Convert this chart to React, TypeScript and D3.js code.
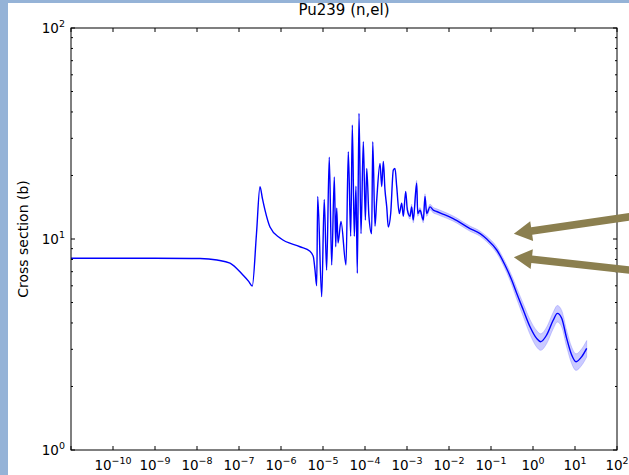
import * as d3 from 'd3'

// neutron energy (MeV) and elastic cross section (b)
const ENERGY = [
  1e-11, 1e-10, 1e-9, 1.18e-8, 3e-8, 6.1e-8, 1.24e-7, 1.7e-7, 2.07e-7, 2.6e-7,
  3.16e-7, 3.6e-7, 4.16e-7, 5.47e-7, 9.5e-7, 2.83e-6, 4.9e-6, 5.88e-6, 6.45e-6, 7.08e-6,
  7.48e-6, 9.31e-6, 1.07e-5, 1.22e-5, 1.41e-5, 1.61e-5, 1.86e-5, 2.01e-5, 2.12e-5, 2.28e-5,
  2.68e-5, 3.53e-5, 4.0e-5, 4.57e-5, 4.99e-5, 5.56e-5, 6.1e-5, 6.56e-5, 7.2e-5, 8.03e-5,
  9.12e-5, 1.02e-4, 1.1e-4, 1.24e-4, 1.44e-4, 1.53e-4, 1.73e-4, 1.9e-4, 2.28e-4, 2.5e-4,
  2.73e-4, 2.99e-4, 3.29e-4, 3.59e-4, 4.09e-4, 4.72e-4, 5.18e-4, 5.69e-4, 6.56e-4, 7.48e-4,
  8.17e-4, 9.31e-4, 1.02e-3, 1.18e-3, 1.29e-3, 1.41e-3, 1.7e-3, 1.8e-3, 2.04e-3, 2.45e-3,
  2.68e-3, 2.94e-3, 3.53e-3, 4.23e-3, 5.09e-3, 6.7e-3, 1.26e-2, 3.16e-2, 5.5e-2, 7.91e-2,
  0.137, 0.215, 0.311, 0.409, 0.587, 0.849, 1.22, 1.52, 2.12, 3.04,
  3.79, 4.82, 6.34, 8.34, 10.6, 14.5, 19.0,
]
const SIGMA = [
  8.1, 8.1, 8.1, 8.08, 7.95, 7.69, 6.75, 6.3, 5.99, 10.5,
  17.7, 15.6, 13.7, 11.4, 10.1, 9.19, 8.75, 8.25, 7.13, 6.0,
  15.9, 5.33, 15.4, 7.13, 24.4, 7.53, 19.7, 9.19, 14.0, 9.57,
  12.1, 7.53, 25.9, 10.3, 34.7, 10.3, 17.8, 6.88, 39.4, 10.6,
  28.9, 12.3, 21.6, 12.8, 10.6, 28.9, 11.5, 15.3, 22.8, 17.7,
  23.3, 17.1, 14.2, 11.4, 13.2, 21.2, 21.6, 17.7, 13.2, 14.8,
  12.8, 16.8, 13.7, 12.8, 14.2, 12.3, 18.4, 13.2, 13.7, 12.3,
  15.9, 13.2, 14.2, 13.7, 13.5, 13.2, 12.5, 11.2, 10.6, 10.0,
  8.87, 7.53, 6.39, 5.53, 4.61, 3.84, 3.38, 3.26, 3.51, 4.13,
  4.44, 4.21, 3.38, 2.82, 2.62, 2.77, 3.03,
]
// relative uncertainty (0 = no band)
const REL_UNC = [
  0, 0, 0, 0, 0, 0, 0, 0, 0, 0,
  0, 0, 0, 0, 0, 0, 0, 0, 0, 0,
  0, 0, 0, 0, 0, 0, 0, 0, 0, 0,
  0, 0, 0, 0, 0, 0, 0, 0, 0, 0,
  0, 0, 0, 0, 0, 0, 0, 0, 0, 0,
  0, 0, 0, 0, 0, 0, 0, 0, 0, 0,
  0, 0, 0.03, 0.03, 0.03, 0.03, 0.03, 0.03, 0.03, 0.03,
  0.03, 0.03, 0.03, 0.03, 0.03, 0.03, 0.028, 0.028, 0.028, 0.03,
  0.035, 0.04, 0.05, 0.06, 0.07, 0.08, 0.09, 0.09, 0.09, 0.09,
  0.09, 0.09, 0.09, 0.09, 0.09, 0.09, 0.09,
]

const X_TICK_EXP = [-11, -10, -9, -8, -7, -6, -5, -4, -3, -2, -1, 0, 1, 2]
const X_LABEL_EXP = [-10, -9, -8, -7, -6, -5, -4, -3, -2, -1, 0, 1, 2]
const Y_TICK_EXP = [0, 1, 2]

// annotation arrows (tail off the right edge -> tip near the curve)
const ARROW_TIP_E = [0.35, 0.35]
const ARROW_TIP_SIGMA = [10.6, 8.2]
const ARROW_TAIL_E = [300, 300]
const ARROW_TAIL_SIGMA = [12.9, 7.06]

const W = 629
const H = 475
const FONT = 'DejaVu Sans, sans-serif'

function Pow({ x, y, exp, anchor }: { x: number; y: number; exp: number; anchor: 'middle' | 'end' }) {
  return (
    <text x={x} y={y} textAnchor={anchor} fontSize={13.5} fontFamily={FONT} fill="#000">
      10
      <tspan dy={-6} fontSize={9.5}>
        {exp < 0 ? `\u2212${-exp}` : `${exp}`}
      </tspan>
    </text>
  )
}

export default function App() {
  const margin = { top: 28, right: 12, bottom: 25, left: 71 }
  const x = d3
    .scaleLog()
    .domain([1e-11, 1e2])
    .range([margin.left, W - margin.right])
  const y = d3
    .scaleLog()
    .domain([1, 100])
    .range([H - margin.bottom, margin.top])

  const [x0, x1] = x.range()
  const [yb, yt] = y.range()

  const idx = d3.range(ENERGY.length)
  const line = d3
    .line<number>()
    .x((i) => x(ENERGY[i]))
    .y((i) => y(SIGMA[i]))
    .curve(d3.curveMonotoneX)
  const band = d3
    .area<number>()
    .defined((i) => REL_UNC[i] > 0)
    .x((i) => x(ENERGY[i]))
    .y0((i) => y(SIGMA[i] * (1 - REL_UNC[i])))
    .y1((i) => y(SIGMA[i] * (1 + REL_UNC[i])))
    .curve(d3.curveMonotoneX)

  const yMinor: number[] = []
  for (let k = 0; k < 2; k++) for (let m = 2; m <= 9; m++) yMinor.push(m * 10 ** k)

  const arrows = ARROW_TIP_E.map((e, i) => {
    const tx = x(e)
    const ty = y(ARROW_TIP_SIGMA[i])
    const sx = x(ARROW_TAIL_E[i])
    const sy = y(ARROW_TAIL_SIGMA[i])
    const len = Math.hypot(sx - tx, sy - ty)
    const ux = (sx - tx) / len
    const uy = (sy - ty) / len
    const px = -uy
    const py = ux
    const headLen = 18
    const headW = 10
    const shaftW = 3.8
    const bx = tx + ux * headLen
    const by = ty + uy * headLen
    const pts = [
      [tx, ty],
      [bx + px * headW, by + py * headW],
      [bx + px * shaftW, by + py * shaftW],
      [sx + px * shaftW, sy + py * shaftW],
      [sx - px * shaftW, sy - py * shaftW],
      [bx - px * shaftW, by - py * shaftW],
      [bx - px * headW, by - py * headW],
    ]
    return pts.map((p) => p.join(',')).join(' ')
  })

  return (
    <svg
      width={W}
      height={H}
      style={{ position: 'absolute', left: 0, top: 0, background: '#fff' }}
    >
      <rect x={0} y={0} width={W} height={3} fill="#95b3d7" />
      <rect x={0} y={0} width={8} height={H} fill="#95b3d7" />

      <text x={(x0 + x1) / 2} y={15} textAnchor="middle" fontSize={15} fontFamily={FONT}>
        Pu239 (n,el)
      </text>
      <text
        transform={`translate(28,${(yb + yt) / 2}) rotate(-90)`}
        textAnchor="middle"
        fontSize={14}
        fontFamily={FONT}
      >
        Cross section (b)
      </text>

      <path d={band(idx) ?? ''} fill="#3030ff" fillOpacity={0.25} stroke="#3030ff" strokeOpacity={0.2} strokeWidth={1} />
      <path d={line(idx) ?? ''} fill="none" stroke="#0000ff" strokeWidth={1.4} strokeLinejoin="round" />

      <g stroke="#000" strokeWidth={1}>
        {X_TICK_EXP.map((k) => (
          <g key={k}>
            <line x1={x(10 ** k)} x2={x(10 ** k)} y1={yb} y2={yb - 4} />
            <line x1={x(10 ** k)} x2={x(10 ** k)} y1={yt} y2={yt + 4} />
          </g>
        ))}
        {Y_TICK_EXP.map((k) => (
          <g key={k}>
            <line x1={x0} x2={x0 + 4} y1={y(10 ** k)} y2={y(10 ** k)} />
            <line x1={x1} x2={x1 - 4} y1={y(10 ** k)} y2={y(10 ** k)} />
          </g>
        ))}
        {yMinor.map((v) => (
          <g key={v}>
            <line x1={x0} x2={x0 + 2} y1={y(v)} y2={y(v)} />
            <line x1={x1} x2={x1 - 2} y1={y(v)} y2={y(v)} />
          </g>
        ))}
        <rect x={x0} y={yt} width={x1 - x0} height={yb - yt} fill="none" />
      </g>

      {X_LABEL_EXP.map((k) => (
        <Pow key={k} x={x(10 ** k)} y={yb + 19.5} exp={k} anchor="middle" />
      ))}
      {Y_TICK_EXP.map((k) => (
        <Pow key={k} x={x0 - 6} y={y(10 ** k) + 5} exp={k} anchor="end" />
      ))}

      {arrows.map((pts, i) => (
        <polygon key={i} points={pts} fill="#8b7f4f" />
      ))}
    </svg>
  )
}
